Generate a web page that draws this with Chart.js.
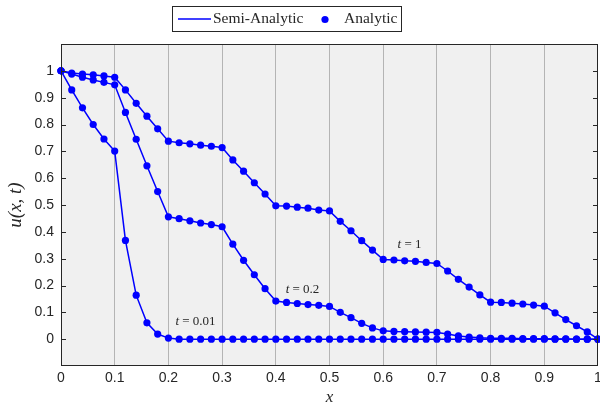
<!DOCTYPE html>
<html>
<head>
<meta charset="utf-8">
<script src="https://cdn.jsdelivr.net/npm/chart.js@4/dist/chart.umd.min.js"></script>
<style>
  html, body { margin: 0; padding: 0; background: #ffffff; }
  #wrap { width: 600px; height: 404px; position: relative; }
</style>
</head>
<body>
<div id="wrap"><canvas id="c" width="600" height="404"></canvas></div>
<script>
// ---- data ----
const xValues = [0, 0.02, 0.04, 0.06, 0.08, 0.10, 0.12, 0.14, 0.16, 0.18,
                 0.20, 0.22, 0.24, 0.26, 0.28, 0.30, 0.32, 0.34, 0.36, 0.38,
                 0.40, 0.42, 0.44, 0.46, 0.48, 0.50, 0.52, 0.54, 0.56, 0.58,
                 0.60, 0.62, 0.64, 0.66, 0.68, 0.70, 0.72, 0.74, 0.76, 0.78,
                 0.80, 0.82, 0.84, 0.86, 0.88, 0.90, 0.92, 0.94, 0.96, 0.98, 1.00];

const uT001 = [1, 0.929, 0.862, 0.800, 0.746, 0.701, 0.368, 0.164, 0.061, 0.019,
               0.004, 0, 0, 0, 0, 0, 0, 0, 0, 0,
               0, 0, 0, 0, 0, 0, 0, 0, 0, 0,
               0, 0, 0, 0, 0, 0, 0, 0, 0, 0,
               0, 0, 0, 0, 0, 0, 0, 0, 0, 0, 0];

const uT02 = [1, 0.988, 0.976, 0.966, 0.957, 0.948, 0.845, 0.745, 0.646, 0.550,
              0.456, 0.449, 0.441, 0.433, 0.427, 0.419, 0.354, 0.294, 0.240, 0.188,
              0.142, 0.137, 0.133, 0.129, 0.126, 0.122, 0.100, 0.080, 0.059, 0.042,
              0.031, 0.029, 0.028, 0.027, 0.026, 0.025, 0.019, 0.012, 0.008, 0.005,
              0.003, 0.003, 0.003, 0.002, 0.002, 0.002, 0.001, 0.001, 0, 0, 0];

const uT1 = [1, 0.992, 0.988, 0.985, 0.981, 0.976, 0.929, 0.879, 0.831, 0.784,
             0.738, 0.732, 0.728, 0.723, 0.719, 0.714, 0.668, 0.626, 0.583, 0.541,
             0.497, 0.496, 0.492, 0.488, 0.481, 0.478, 0.439, 0.404, 0.367, 0.332,
             0.297, 0.295, 0.292, 0.290, 0.286, 0.282, 0.254, 0.223, 0.194, 0.165,
             0.138, 0.137, 0.134, 0.131, 0.127, 0.123, 0.098, 0.073, 0.050, 0.027, 0];

const curveNames = ['t = 0.01', 't = 0.2', 't = 1'];
const curveValues = [uT001, uT02, uT1];
// annotation anchor (x, u) for each curve label
const labelAnchorX = [0.2505, 0.4497, 0.649];
const labelAnchorY = [0.065, 0.185, 0.353];
const legendNames = ['Semi-Analytic', 'Analytic'];

const xTickMin = 0, xTickMax = 1, xStep = 0.1;
const yMin = -0.1, yMax = 1.1, yStep = 0.1;

// ---- styles ----
const BLUE = '#0000ff';
const INK = '#262626';
const SERIF = '"Liberation Serif", "DejaVu Serif", serif';
const SANS = '"Liberation Sans", Arial, sans-serif';

function toPoints(vals) { return vals.map((v, i) => ({ x: xValues[i], y: v })); }

const datasets = [];
curveValues.forEach((vals, k) => {
  datasets.push({
    label: legendNames[1] + ' ' + curveNames[k],
    data: toPoints(vals),
    showLine: false,
    pointRadius: 3.6,
    pointHoverRadius: 3.6,
    pointBackgroundColor: BLUE,
    pointBorderColor: BLUE,
    pointBorderWidth: 0,
    clip: false
  });
});
curveValues.forEach((vals, k) => {
  datasets.push({
    label: legendNames[0] + ' ' + curveNames[k],
    data: toPoints(vals),
    showLine: true,
    borderColor: BLUE,
    borderWidth: 1.5,
    pointRadius: 0,
    tension: 0,
    fill: false,
    clip: false
  });
});

function fmt(v) {
  const r = Math.round(v * 10) / 10;
  return String(r);
}

const decor = {
  id: 'decor',
  beforeDraw(chart) {
    const { ctx, chartArea: a } = chart;
    ctx.save();
    ctx.fillStyle = '#f0f0f0';
    ctx.fillRect(a.left, a.top, a.right - a.left, a.bottom - a.top);
    ctx.restore();
  },
  afterDraw(chart) {
    const { ctx, chartArea: a } = chart;
    const ys = chart.scales.y;
    const xs = chart.scales.x;
    ctx.save();
    // box
    ctx.strokeStyle = INK;
    ctx.lineWidth = 1;
    ctx.strokeRect(Math.round(a.left) + 0.5, Math.round(a.top) + 0.5,
                   Math.round(a.right - a.left) - 1, Math.round(a.bottom - a.top) - 1);
    // inside y tick marks
    ys.ticks.forEach(t => {
      if (t.value < -0.05 || t.value > 1.05) return;
      const py = Math.round(ys.getPixelForValue(t.value)) + 0.5;
      ctx.beginPath();
      ctx.moveTo(a.left, py); ctx.lineTo(a.left + 5, py);
      ctx.moveTo(a.right, py); ctx.lineTo(a.right - 5, py);
      ctx.stroke();
    });
    // curve annotations
    ctx.fillStyle = INK;
    ctx.textBaseline = 'middle';
    curveNames.forEach((name, k) => {
      const cx = xs.getPixelForValue(labelAnchorX[k]);
      const cy = ys.getPixelForValue(labelAnchorY[k]);
      const first = name.slice(0, 1);
      const rest = name.slice(1);
      ctx.font = 'italic 13px ' + SERIF;
      const w1 = ctx.measureText(first).width;
      ctx.font = '13px ' + SERIF;
      const w2 = ctx.measureText(rest).width;
      let x0 = cx - (w1 + w2) / 2;
      ctx.font = 'italic 13px ' + SERIF;
      ctx.textAlign = 'left';
      ctx.fillText(first, x0, cy);
      ctx.font = '13px ' + SERIF;
      ctx.fillText(rest, x0 + w1, cy);
    });
    // legend
    const L = { x: 172, y: 6, w: 230, h: 26 };
    ctx.fillStyle = '#ffffff';
    ctx.fillRect(L.x, L.y, L.w, L.h);
    ctx.strokeStyle = INK;
    ctx.lineWidth = 1;
    ctx.strokeRect(L.x + 0.5, L.y + 0.5, L.w - 1, L.h - 1);
    const my = L.y + L.h / 2;
    ctx.strokeStyle = BLUE;
    ctx.lineWidth = 1.5;
    ctx.beginPath();
    ctx.moveTo(178, my); ctx.lineTo(211, my);
    ctx.stroke();
    ctx.fillStyle = BLUE;
    ctx.beginPath();
    ctx.arc(325, my + 0.5, 3.6, 0, Math.PI * 2);
    ctx.fill();
    ctx.fillStyle = INK;
    ctx.font = '15.5px ' + SERIF;
    ctx.textAlign = 'left';
    ctx.textBaseline = 'middle';
    ctx.fillText(legendNames[0], 213, my);
    ctx.fillText(legendNames[1], 344, my);
    ctx.restore();
  }
};

new Chart(document.getElementById('c'), {
  type: 'line',
  data: { datasets },
  plugins: [decor],
  options: {
    responsive: false,
    animation: false,
    devicePixelRatio: 1,
    layout: { autoPadding: false, padding: { top: 44, right: 2, left: 0, bottom: 0 } },
    plugins: { legend: { display: false }, tooltip: { enabled: false } },
    scales: {
      x: {
        type: 'linear',
        min: xTickMin, max: xTickMax,
        border: { display: false },
        grid: {
          drawTicks: false,
          lineWidth: 1,
          color: ctx => (ctx.tick && (ctx.tick.value <= 0.001 || ctx.tick.value >= 0.999)) ? 'rgba(0,0,0,0)' : '#b4b4b4'
        },
        ticks: {
          stepSize: xStep, autoSkip: false, maxRotation: 0, padding: 4,
          color: INK, font: { family: SANS, size: 14 },
          callback: v => fmt(v)
        },
        title: {
          display: true, text: 'x', color: INK,
          font: { family: SERIF, style: 'italic', size: 17, lineHeight: 1 },
          padding: { top: 0, bottom: -2.5 }
        },
        afterFit(s) { s.height = 38; s.paddingLeft = 0; s.paddingRight = 0; }
      },
      y: {
        type: 'linear',
        min: yMin, max: yMax,
        border: { display: false },
        grid: { display: false, drawTicks: false },
        ticks: {
          stepSize: yStep, autoSkip: false, padding: 7,
          color: INK, font: { family: SANS, size: 14 },
          callback: v => (v < -0.05 || v > 1.05) ? '' : fmt(v)
        },
        title: {
          display: true, text: 'u(x, t)', color: INK,
          font: { family: SERIF, style: 'italic', size: 19, lineHeight: 1 },
          padding: { top: 6.5, bottom: 0 }
        },
        afterFit(s) { s.width = 61; s.paddingTop = 0; s.paddingBottom = 0; }
      }
    }
  }
});
</script>
</body>
</html>
